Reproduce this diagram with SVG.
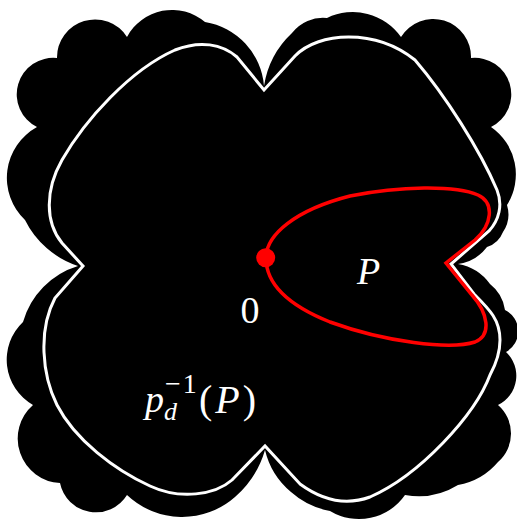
<svg xmlns="http://www.w3.org/2000/svg" width="517" height="523" viewBox="0 0 517 523">
<style>
.set{fill:#000;stroke:none}
.curve{fill:none;stroke:#fff;stroke-width:3;stroke-linejoin:miter;stroke-miterlimit:20}
.petal{fill:none;stroke:#f00;stroke-width:3.5;stroke-linejoin:miter;stroke-miterlimit:20}
.lbl{fill:#fff;font-family:"Liberation Serif","DejaVu Serif",serif}
</style>
<rect width="517" height="523" fill="#fff"/>
<g id="julia-set">
<path class="set" d="M264,86 A92,92 0 0 1 292,33 A39,39 0 0 1 327,18 A59,59 0 0 1 401,37 A37.8,37.8 0 0 1 471,58 A36.5,36.5 0 0 1 491,127 A57.5,57.5 0 0 1 507,205 A32,32 0 0 1 503,232 A25.5,25.5 0 0 1 487,247 A44,44 0 0 1 458,264 A50,50 0 0 1 490,284 A40,40 0 0 1 505,310 A23.7,23.7 0 0 1 506,352 A32.5,32.5 0 0 1 498,405 A37.7,37.7 0 0 1 498,462 A68,68 0 0 1 458,485 A75,75 0 0 1 405,495 A56,56 0 0 1 330,511 A80,80 0 0 1 291,492 A78,78 0 0 1 265,450 A99,99 0 0 1 235,497 A80,80 0 0 1 127,495 A36.6,36.6 0 0 1 60,483 A44.5,44.5 0 0 1 33,405 A52,52 0 0 1 23,322 A82,82 0 0 1 78,266 A91,91 0 0 1 25,220 A58,58 0 0 1 37,127 A36.5,36.5 0 0 1 57,58 A38,38 0 0 1 127,37 A51,51 0 0 1 205,22 A70.6,70.6 0 0 1 264,86 Z"/>
</g>
<g id="preimage-curve">
<path class="curve" d="M83,266 L62,243 C45,222 45,190 62,160 C85,120 130,70 175,50 C200,40 222,44 237,57 L264,90 L295,56 C318,32 375,28 415,60 C445,95 480,150 497,190 C503,205 499,220 489,231 L451,264 L474,294 C490,310 500,320 500,340 C500,352 496,364 490,375 C475,415 420,475 370,497 C340,508 315,495 300,484 L265,446 L232,480 C215,495 180,500 150,486 C115,470 75,440 57,405 C42,375 38,330 55,298 Z"/>
</g>
<g id="petal-P">
<path class="petal" d="M266,258 C266,235 295,210 350,196 C400,186 455,185 478,195 C495,203 492,225 475,240 L446,263 L472,295 C488,313 492,335 475,342 C450,350 385,342 330,322 C300,310 266,290 266,258 Z"/>
<circle cx="265.7" cy="257.7" r="9.5" fill="#f00"/>
</g>
<g id="labels">
<text class="lbl" x="250" y="323" font-size="38" text-anchor="middle">0</text>
<text class="lbl" x="357" y="284" font-size="38" font-style="italic">P</text>
<text class="lbl" x="145" y="412" font-size="38" font-style="italic">p</text>
<text class="lbl" x="164" y="420" font-size="26" font-style="italic">d</text>
<text class="lbl" x="165" y="393" font-size="28" letter-spacing="2">−1</text>
<text class="lbl" x="199" y="413" font-size="40" letter-spacing="3">(<tspan font-style="italic">P</tspan>)</text>
</g>
</svg>
